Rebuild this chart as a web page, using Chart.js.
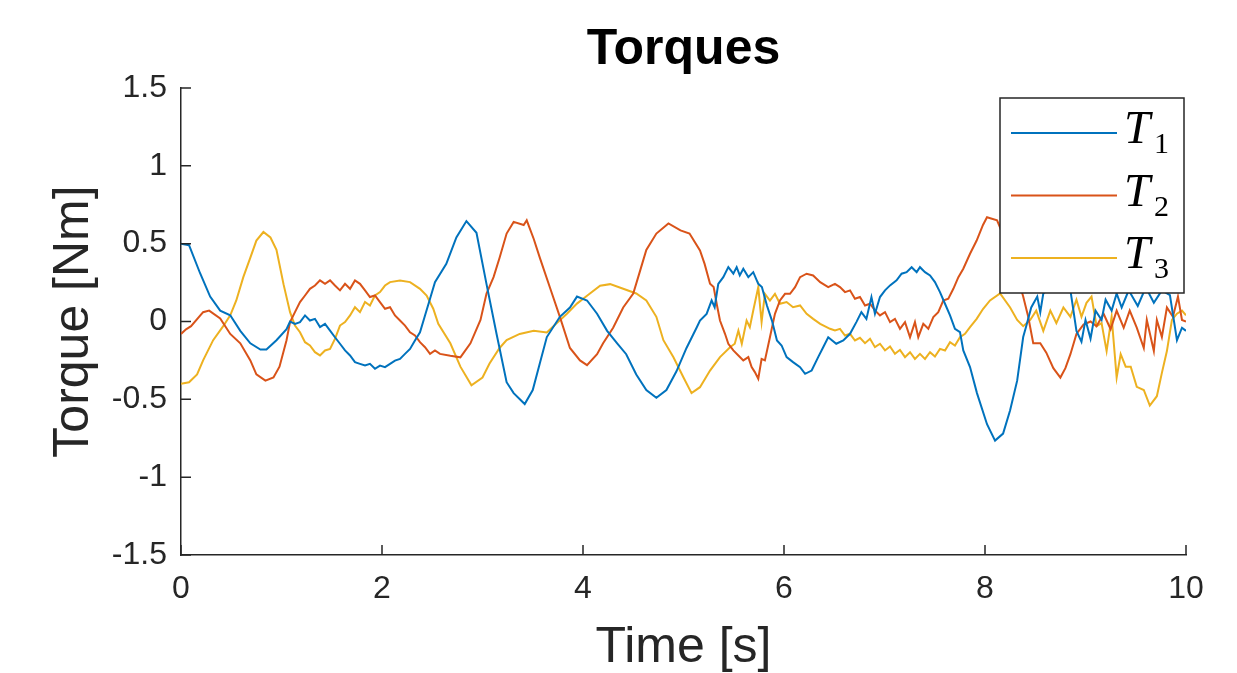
<!DOCTYPE html>
<html>
<head>
<meta charset="utf-8">
<script src="https://cdn.jsdelivr.net/npm/chart.js@4.4.1/dist/chart.umd.min.js"></script>
<style>
  html, body { margin: 0; padding: 0; background: #fff; }
  #wrap { width: 1237px; height: 673px; }
</style>
</head>
<body>
<div id="wrap"><canvas id="myChart" width="1237" height="673"></canvas></div>
<script>
// tick labels
const xTicks = [0, 2, 4, 6, 8, 10];
const yTicks = [-1.5, -1, -0.5, 0, 0.5, 1, 1.5];

// series names and colors (MATLAB defaults)
const seriesNames = ['T1', 'T2', 'T3'];
const seriesColors = ['#0072BD', '#D95319', '#EDB120'];

// T1
const time1 = [0, 0.08, 0.19, 0.29, 0.39, 0.49, 0.59, 0.69, 0.79, 0.85, 0.95, 1.05,
  1.085, 1.134, 1.184, 1.234, 1.283, 1.333, 1.383, 1.433, 1.483, 1.532,
  1.582, 1.632, 1.682, 1.731, 1.781, 1.831, 1.88, 1.93, 1.98, 2.03,
  2.08, 2.129, 2.179, 2.229, 2.279, 2.328, 2.378, 2.428, 2.478, 2.527,
  2.64, 2.74, 2.84, 2.94, 3.04, 3.14, 3.24, 3.31, 3.42, 3.50,
  3.57, 3.64, 3.77, 3.87, 3.94, 4.04, 4.14, 4.24, 4.34, 4.43,
  4.53, 4.63, 4.73, 4.83, 4.93, 5.03, 5.13,
  5.164, 5.23, 5.28, 5.31, 5.346, 5.396, 5.446, 5.496, 5.529, 5.56,
  5.595, 5.645, 5.694, 5.744, 5.78, 5.83, 5.88, 5.93, 5.976, 6.026,
  6.09, 6.16, 6.21, 6.275, 6.34, 6.39, 6.44,
  6.52, 6.59, 6.657, 6.72, 6.77, 6.82, 6.87, 6.905, 6.955, 7.005,
  7.055, 7.12, 7.17, 7.22, 7.27, 7.32, 7.353, 7.403, 7.453, 7.502,
  7.552, 7.602, 7.652, 7.701, 7.751, 7.784, 7.851,
  7.92, 8.02, 8.10, 8.18, 8.25, 8.32, 8.38, 8.41, 8.46, 8.52,
  8.55, 8.58, 8.65, 8.75, 8.85, 8.91, 8.96, 9.00, 9.05, 9.10,
  9.16, 9.20, 9.26, 9.31, 9.36, 9.43, 9.52, 9.60, 9.68, 9.76,
  9.84, 9.91, 9.96, 10];
const torque1 = [0.50, 0.49, 0.31, 0.16, 0.07, 0.04, -0.06, -0.14, -0.18, -0.18, -0.12, -0.05,
  0.00, -0.015, -0.004, 0.039, 0.006, 0.017, -0.036, -0.015, -0.058, -0.101,
  -0.143, -0.186, -0.218, -0.261, -0.272, -0.283, -0.272, -0.304, -0.283, -0.293,
  -0.272, -0.251, -0.24, -0.208, -0.176, -0.122, -0.069, 0.039, 0.146, 0.253,
  0.37, 0.54, 0.645, 0.57, 0.24, -0.08, -0.39, -0.46, -0.53, -0.44,
  -0.27, -0.10, 0.03, 0.09, 0.16, 0.135, 0.05, -0.06, -0.14, -0.21,
  -0.34, -0.44, -0.49, -0.44, -0.32, -0.17, -0.04,
  0.006, 0.049, 0.135, 0.092, 0.242, 0.285, 0.349, 0.307, 0.349, 0.296,
  0.339, 0.285, 0.317, 0.242, 0.221, 0.103, 0.006, -0.122, -0.154, -0.229,
  -0.261, -0.293, -0.336, -0.315, -0.229, -0.165, -0.101,
  -0.143, -0.122, -0.079, -0.004, 0.06, 0.017, 0.157, 0.05, 0.157, 0.20,
  0.232, 0.264, 0.307, 0.317, 0.349, 0.317, 0.349, 0.317, 0.296, 0.253,
  0.189, 0.114, 0.039, -0.047, -0.068, -0.186, -0.293,
  -0.46, -0.66, -0.765, -0.72, -0.57, -0.38, -0.10, -0.03, 0.09, 0.16,
  0.06, 0.18, 0.22, 0.25, 0.20, -0.06, -0.13, 0.01, -0.11, 0.07,
  0.01, 0.14, 0.07, 0.18, 0.09, 0.20, 0.10, 0.22, 0.12, 0.20,
  0.17, -0.12, -0.04, -0.06];

// T2
const time2 = [0, 0.05, 0.10, 0.22, 0.28, 0.39, 0.49, 0.59, 0.69, 0.75,
  0.84, 0.92, 0.98, 1.05,
  1.085, 1.134, 1.184, 1.234, 1.283, 1.333, 1.383, 1.433, 1.483, 1.532,
  1.582, 1.632, 1.682, 1.731, 1.781, 1.831, 1.88, 1.93, 1.98, 2.03,
  2.08, 2.129, 2.179, 2.229, 2.279, 2.328, 2.378, 2.428, 2.478, 2.527, 2.577,
  2.68, 2.78, 2.88, 2.98, 3.04, 3.11, 3.17, 3.24, 3.31, 3.41,
  3.44, 3.51, 3.57, 3.67, 3.77, 3.87, 3.97, 4.04, 4.14, 4.20,
  4.30, 4.40, 4.50, 4.57, 4.63, 4.73, 4.85, 4.97, 5.06,
  5.164, 5.21, 5.264, 5.30, 5.33, 5.363, 5.413, 5.446, 5.496, 5.546,
  5.595, 5.645, 5.678, 5.71, 5.744, 5.777, 5.81, 5.86, 5.91, 5.96,
  6.01, 6.06, 6.11, 6.16, 6.225, 6.29, 6.36, 6.44,
  6.507, 6.557, 6.607, 6.657, 6.706, 6.756, 6.806, 6.856, 6.905, 6.955,
  7.005, 7.055, 7.104, 7.154, 7.204, 7.254, 7.303, 7.336, 7.386, 7.436,
  7.486, 7.535, 7.585, 7.635, 7.685, 7.735, 7.784, 7.851, 7.917,
  7.98, 8.02, 8.12, 8.25, 8.38, 8.43, 8.48, 8.55, 8.61, 8.68,
  8.75, 8.80, 8.85, 8.91, 8.98, 9.05, 9.11, 9.18, 9.25, 9.31,
  9.38, 9.44, 9.51, 9.58, 9.61, 9.68, 9.71, 9.76, 9.81, 9.87,
  9.92, 9.96, 10];
const torque2 = [-0.08, -0.05, -0.03, 0.06, 0.07, 0.02, -0.08, -0.14, -0.25, -0.34,
  -0.38, -0.36, -0.29, -0.12,
  -0.004, 0.06, 0.125, 0.167, 0.21, 0.231, 0.264, 0.242, 0.264, 0.231,
  0.20, 0.242, 0.21, 0.264, 0.242, 0.20, 0.157, 0.167, 0.125, 0.082,
  0.092, 0.039, 0.006, -0.026, -0.069, -0.09, -0.133, -0.165, -0.208, -0.186, -0.208,
  -0.22, -0.23, -0.14, 0.01, 0.18, 0.285, 0.41, 0.565, 0.64, 0.62,
  0.65, 0.53, 0.41, 0.22, 0.03, -0.17, -0.25, -0.28, -0.21, -0.14,
  -0.04, 0.09, 0.18, 0.33, 0.46, 0.565, 0.63, 0.585, 0.565,
  0.457, 0.37, 0.242, 0.221, 0.114, 0.006, -0.079, -0.143, -0.186, -0.218,
  -0.25, -0.229, -0.293, -0.325, -0.368, -0.24, -0.25, -0.101, 0.049, 0.135,
  0.178, 0.178, 0.221, 0.285, 0.307, 0.296, 0.253, 0.221,
  0.242, 0.221, 0.189, 0.20, 0.146, 0.157, 0.103, 0.114, 0.071, 0.039,
  0.06, -0.004, 0.017, -0.047, -0.004, -0.101, -0.004, -0.101, -0.015, -0.047,
  0.028, 0.06, 0.135, 0.146, 0.21, 0.285, 0.339, 0.435, 0.52,
  0.62, 0.67, 0.65, 0.45, 0.16, 0.03, -0.14, -0.14, -0.20, -0.30,
  -0.36, -0.30, -0.21, -0.08, -0.02, 0.00, -0.03, 0.05, -0.05, 0.07,
  -0.04, 0.07, -0.04, -0.17, 0.01, -0.19, 0.01, -0.10, 0.09, 0.03,
  0.16, 0.01, 0.00];

// T3
const time3 = [0, 0.08, 0.16, 0.22, 0.32, 0.42, 0.49, 0.55, 0.62, 0.69,
  0.75, 0.82, 0.89, 0.95, 1.02,
  1.085, 1.134, 1.184, 1.234, 1.283, 1.333, 1.383, 1.433, 1.483, 1.532,
  1.582, 1.632, 1.682, 1.731, 1.781, 1.831, 1.88, 1.93, 1.98, 2.03,
  2.08, 2.179, 2.279, 2.378, 2.444, 2.51, 2.56,
  2.68, 2.78, 2.89, 3.00, 3.07, 3.17, 3.24, 3.37, 3.51, 3.64,
  3.74, 3.84, 3.94, 4.04, 4.17, 4.27, 4.40, 4.53, 4.63, 4.73,
  4.80, 4.90, 5.00, 5.08,
  5.164, 5.264, 5.363, 5.463, 5.51, 5.546, 5.58, 5.628, 5.66, 5.694,
  5.744, 5.777, 5.81, 5.86, 5.91, 5.96, 6.026, 6.09, 6.16, 6.225,
  6.29, 6.36,
  6.458, 6.507, 6.557, 6.607, 6.657, 6.706, 6.756, 6.806, 6.856, 6.905,
  6.955, 7.005, 7.055, 7.104, 7.154, 7.204, 7.254, 7.303, 7.353, 7.403,
  7.453, 7.502, 7.552, 7.602, 7.652, 7.701, 7.751, 7.801, 7.851, 7.917,
  7.98, 8.05, 8.15, 8.25, 8.32, 8.38, 8.45, 8.51, 8.58, 8.65,
  8.71, 8.78, 8.85, 8.91, 8.96, 9.01, 9.06, 9.11, 9.16, 9.21,
  9.26, 9.31, 9.35, 9.40, 9.45, 9.51, 9.58, 9.64, 9.71, 9.76,
  9.81, 9.86, 9.91, 9.96, 10];
const torque3 = [-0.40, -0.39, -0.34, -0.25, -0.12, -0.03, 0.04, 0.135, 0.285, 0.41,
  0.52, 0.575, 0.54, 0.46, 0.24,
  0.06, -0.026, -0.069, -0.133, -0.154, -0.197, -0.218, -0.186, -0.176, -0.112,
  -0.026, -0.004, 0.039, 0.092, 0.06, 0.125, 0.103, 0.167, 0.189, 0.231,
  0.253, 0.264, 0.253, 0.21, 0.167, 0.082, -0.015,
  -0.14, -0.29, -0.41, -0.36, -0.27, -0.17, -0.12, -0.08, -0.06, -0.07,
  -0.01, 0.05, 0.115, 0.165, 0.23, 0.24, 0.21, 0.18, 0.135, 0.03,
  -0.12, -0.23, -0.36, -0.46,
  -0.422, -0.315, -0.229, -0.165, -0.143, -0.058, -0.143, 0.006, -0.036, 0.071,
  0.221, -0.004, 0.178, 0.135, 0.178, 0.114, 0.125, 0.092, 0.103, 0.049,
  0.017, -0.015,
  -0.047, -0.058, -0.047, -0.090, -0.079, -0.122, -0.105, -0.139, -0.111, -0.165,
  -0.143, -0.186, -0.161, -0.208, -0.182, -0.229, -0.197, -0.240, -0.208, -0.240,
  -0.197, -0.225, -0.176, -0.186, -0.133, -0.154, -0.101, -0.079, -0.036, 0.017,
  0.08, 0.135, 0.18, 0.09, 0.01, -0.03, 0.01, 0.07, -0.06, 0.07,
  -0.01, 0.09, 0.03, 0.14, 0.03, 0.12, 0.16, -0.03, -0.01, -0.19,
  0.03, -0.36, -0.21, -0.29, -0.29, -0.42, -0.44, -0.54, -0.48, -0.33,
  -0.19, 0.01, 0.05, 0.07, 0.04];

const axisColor = '#262626';
const sansFont = "'Liberation Sans', Arial, sans-serif";

function toPoints(t, v) {
  const n = Math.min(t.length, v.length);
  return t.slice(0, n).map((x, i) => ({ x: x, y: v[i] }));
}

// ticks pointing inwards like matlab
const inwardTicks = {
  id: 'inwardTicks',
  afterDatasetsDraw(chart) {
    const { ctx, chartArea, scales } = chart;
    ctx.save();
    ctx.strokeStyle = axisColor;
    ctx.lineWidth = 1.5;
    ctx.beginPath();
    xTicks.forEach(v => {
      const px = scales.x.getPixelForValue(v);
      ctx.moveTo(px, chartArea.bottom);
      ctx.lineTo(px, chartArea.bottom - 10);
    });
    yTicks.forEach(v => {
      const py = scales.y.getPixelForValue(v);
      ctx.moveTo(chartArea.left, py);
      ctx.lineTo(chartArea.left + 10, py);
    });
    ctx.stroke();
    ctx.restore();
  }
};

// legend box in the top right corner, T with subscript
const boxLegend = {
  id: 'boxLegend',
  afterDraw(chart) {
    const { ctx, chartArea } = chart;
    const w = 184, h = 195;
    const left = chartArea.right - 2 - w;
    const top = chartArea.top + 10;
    ctx.save();
    ctx.fillStyle = '#fff';
    ctx.fillRect(left, top, w, h);
    ctx.strokeStyle = axisColor;
    ctx.lineWidth = 1.5;
    ctx.strokeRect(left, top, w, h);
    chart.data.datasets.forEach((ds, i) => {
      const ly = top + 35 + i * 62.5;
      ctx.strokeStyle = ds.borderColor;
      ctx.lineWidth = 2;
      ctx.beginPath();
      ctx.moveTo(left + 11, ly);
      ctx.lineTo(left + 117, ly);
      ctx.stroke();
      ctx.fillStyle = '#000';
      ctx.textBaseline = 'alphabetic';
      ctx.textAlign = 'left';
      ctx.font = "italic 47px 'Liberation Serif', serif";
      ctx.fillText(ds.label.charAt(0), left + 124, ly + 10);
      ctx.font = "30px 'Liberation Serif', serif";
      ctx.fillText(ds.label.slice(1), left + 154, ly + 20);
    });
    ctx.restore();
  }
};

const ctx = document.getElementById('myChart');

const myChart = new Chart(ctx, {
  type: 'line',
  data: {
    datasets: [
      { label: seriesNames[0], data: toPoints(time1, torque1), borderColor: seriesColors[0] },
      { label: seriesNames[1], data: toPoints(time2, torque2), borderColor: seriesColors[1] },
      { label: seriesNames[2], data: toPoints(time3, torque3), borderColor: seriesColors[2] }
    ]
  },
  options: {
    responsive: false,
    animation: false,
    layout: { padding: { left: 40, right: 51, top: 0, bottom: 0 } },
    elements: {
      line: { borderWidth: 2, tension: 0, fill: false },
      point: { radius: 0 }
    },
    plugins: {
      legend: { display: false },
      tooltip: { enabled: false },
      title: {
        display: true,
        fullSize: false,
        text: 'Torques',
        color: '#000',
        font: { family: sansFont, size: 50, weight: 'bold' },
        padding: { top: 20, bottom: 8 }
      }
    },
    scales: {
      x: {
        type: 'linear',
        min: 0,
        max: 10,
        afterBuildTicks: s => { s.ticks = xTicks.map(v => ({ value: v })); },
        afterFit: s => { s.height = 118; },
        ticks: {
          color: axisColor,
          font: { family: sansFont, size: 32 },
          padding: 15,
          maxRotation: 0,
          callback: v => String(v)
        },
        grid: { drawOnChartArea: false, drawTicks: false },
        border: { display: true, color: axisColor, width: 1.5 },
        title: {
          display: true,
          text: 'Time [s]',
          color: axisColor,
          font: { family: sansFont, size: 50, lineHeight: 1 },
          padding: { top: 0, bottom: 0 }
        }
      },
      y: {
        type: 'linear',
        min: -1.5,
        max: 1.5,
        afterBuildTicks: s => { s.ticks = yTicks.map(v => ({ value: v })); },
        afterFit: s => { s.width = 141; },
        ticks: {
          color: axisColor,
          font: { family: sansFont, size: 32 },
          padding: 14,
          callback: v => String(Math.round(v * 10) / 10)
        },
        grid: { drawOnChartArea: false, drawTicks: false },
        border: { display: true, color: axisColor, width: 1.5 },
        title: {
          display: true,
          text: 'Torque [Nm]',
          color: axisColor,
          font: { family: sansFont, size: 50 },
          padding: { top: 4, bottom: 0 }
        }
      }
    }
  },
  plugins: [inwardTicks, boxLegend]
});
</script>
</body>
</html>
